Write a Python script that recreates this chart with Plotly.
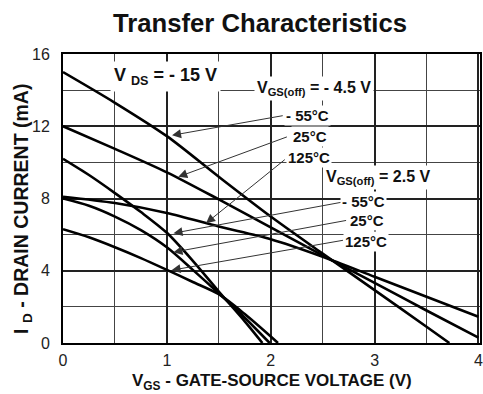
import plotly.graph_objects as go

# ---- data ----
# V_GS(off) = -4.5 V group
a1_v = [0, 0.5, 1, 1.5, 2, 2.5, 3, 3.5, 3.72]          # -55°C
a1_i = [15.0, 13.3, 11.45, 9.2, 7.0, 4.95, 2.93, 0.9, 0]
a2_v = [0, 0.5, 1, 1.5, 2, 2.5, 3, 3.5, 4]             # 25°C
a2_i = [12.0, 10.75, 9.45, 7.95, 6.4, 4.85, 3.33, 1.8, 0.3]
a3_v = [0, 0.5, 1, 1.5, 2, 2.5, 3, 3.5, 4]             # 125°C
a3_i = [8.1, 7.75, 7.2, 6.45, 5.75, 4.78, 3.67, 2.56, 1.45]
# V_GS(off) = 2.5 V group
b1_v = [0, 0.25, 0.5, 0.75, 1, 1.25, 1.5, 1.75, 1.92]  # -55°C
b1_i = [10.2, 9.3, 8.3, 7.25, 6.1, 4.55, 2.85, 1.2, 0]
b2_v = [0, 0.25, 0.5, 0.75, 1, 1.25, 1.5, 1.75, 1.99]  # 25°C
b2_i = [8.0, 7.6, 7.0, 6.25, 5.3, 4.05, 2.75, 1.4, 0]
b3_v = [0, 0.25, 0.5, 0.75, 1, 1.25, 1.5, 1.75, 2.07]  # 125°C
b3_i = [6.3, 5.85, 5.3, 4.7, 4.05, 3.38, 2.7, 1.6, 0]

x_ticks = [0, 1, 2, 3, 4]
y_ticks = [0, 4, 8, 12, 16]

# label texts / positions (data coords) and arrow start -> tip
temp_labels = ["- 55°C", "25°C", "125°C"]
g45_label_pos = [(2.355, 12.6), (2.38, 11.44), (2.365, 10.28)]
g45_arrow_start = [(2.13, 12.6), (2.17, 11.44), (2.15, 10.22)]
g45_arrow_tip = [(1.05, 11.5), (1.11, 9.2), (1.377, 6.63)]
g25_label_pos = [(2.89, 7.85), (2.925, 6.8), (2.915, 5.64)]
g25_arrow_start = [(2.69, 7.8), (2.74, 6.8), (2.71, 5.7)]
g25_arrow_tip = [(1.064, 6.08), (1.064, 5.03), (1.045, 4.03)]

FONT = "Liberation Sans, Arial, sans-serif"

fig = go.Figure()
for v, i in [(a1_v, a1_i), (a2_v, a2_i), (a3_v, a3_i),
             (b1_v, b1_i), (b2_v, b2_i), (b3_v, b3_i)]:
    fig.add_trace(go.Scatter(x=v, y=i, mode="lines",
                             line=dict(color="black", width=2.6, shape="spline", smoothing=0.8),
                             showlegend=False, hoverinfo="skip"))

ann = []
# arrows (no text)
for starts, tips in [(g45_arrow_start, g45_arrow_tip), (g25_arrow_start, g25_arrow_tip)]:
    for (sx, sy), (tx, ty) in zip(starts, tips):
        ann.append(dict(x=tx, y=ty, ax=sx, ay=sy, xref="x", yref="y", axref="x", ayref="y",
                        text="", showarrow=True, arrowhead=2, arrowsize=1.8, arrowwidth=1,
                        arrowcolor="#333"))
# temperature labels
for pos_list in [g45_label_pos, g25_label_pos]:
    for (lx, ly), t in zip(pos_list, temp_labels):
        ann.append(dict(x=lx, y=ly, xref="x", yref="y", text="<b>%s</b>" % t, showarrow=False,
                        font=dict(family=FONT, size=15, color="#111"), bgcolor="white",
                        borderpad=1))
# group labels
ann.append(dict(x=2.42, y=14.09, xref="x", yref="y",
                text="<b>V<sub>GS(off)</sub> = - 4.5 V</b>", showarrow=False,
                font=dict(family=FONT, size=16, color="#111"), bgcolor="white", borderpad=2))
ann.append(dict(x=3.04, y=9.17, xref="x", yref="y",
                text="<b>V<sub>GS(off)</sub> = 2.5 V</b>", showarrow=False,
                font=dict(family=FONT, size=16, color="#111"), bgcolor="white", borderpad=2))
ann.append(dict(x=0.99, y=14.75, xref="x", yref="y",
                text="<b>V <sub>DS</sub> = - 15 V</b>", showarrow=False,
                font=dict(family=FONT, size=18, color="#111"), bgcolor="white", borderpad=3))
# axis titles
ann.append(dict(x=0.5, y=-0.134, xref="paper", yref="paper", yanchor="middle",
                text="<b>V<sub>GS</sub> - GATE-SOURCE VOLTAGE (V)</b>", showarrow=False,
                font=dict(family=FONT, size=17, color="#111")))
ann.append(dict(x=-0.0976, y=0.465, xref="paper", yref="paper", xanchor="center", yanchor="middle",
                textangle=-90, text="<b>I <sub>D</sub> - DRAIN CURRENT (mA)</b>", showarrow=False,
                font=dict(family=FONT, size=19.5, color="#111")))

fig.update_layout(
    width=483, height=394,
    margin=dict(l=63, r=0, t=54, b=51),
    paper_bgcolor="white", plot_bgcolor="white",
    title=dict(text="<b>Transfer Characteristics</b>", x=260 / 483, y=1 - 23 / 394,
               xanchor="center", yanchor="middle",
               font=dict(family=FONT, size=25.7, color="#111")),
    annotations=ann,
    xaxis=dict(range=[0, 4.015], tickvals=x_ticks, ticktext=[str(t) for t in x_ticks],
               showgrid=True, gridcolor="#222", gridwidth=1.6,
               minor=dict(dtick=0.5, showgrid=True, gridcolor="#444", gridwidth=1.1),
               showline=True, linecolor="black", linewidth=2, mirror=True, zeroline=False,
               ticks="", ticklabelstandoff=2, ticklabeloverflow="allow",
               tickfont=dict(family=FONT, size=16, color="#222")),
    yaxis=dict(range=[0, 16], tickvals=y_ticks, ticktext=[str(t) for t in y_ticks],
               showgrid=True, gridcolor="#222", gridwidth=1.6,
               minor=dict(dtick=2, showgrid=True, gridcolor="#444", gridwidth=1.1),
               showline=True, linecolor="black", linewidth=2, mirror=True, zeroline=False,
               ticks="", ticklabelstandoff=8,
               tickfont=dict(family=FONT, size=16, color="#222")),
)

fig.write_html("out.html", config={"displayModeBar": False},
               post_script="document.body.style.margin='0';document.body.style.padding='0';"
                           "document.body.style.overflow='hidden';")
